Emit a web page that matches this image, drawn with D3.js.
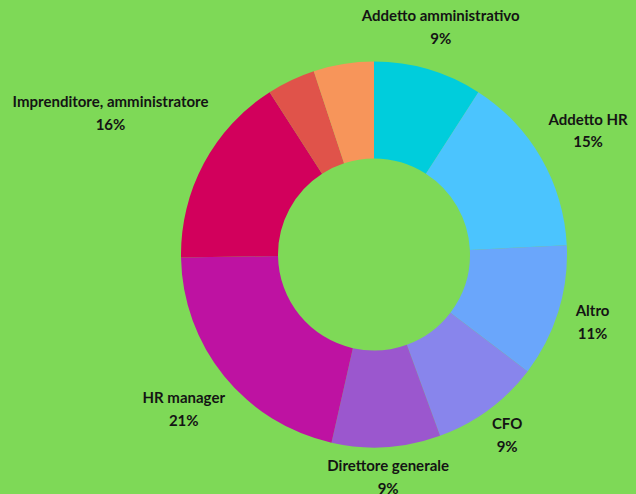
<!DOCTYPE html>
<html>
<head>
<meta charset="utf-8">
<script src="https://cdn.jsdelivr.net/npm/d3@7"></script>
<style>
  html, body { margin: 0; padding: 0; background: #7ed957; }
  svg { display: block; }
  text { font-family: Lato, "Noto Sans", sans-serif; font-weight: 700; fill: #141414; }
</style>
</head>
<body>
<svg id="chart" width="636" height="494"></svg>
<script>
// Ruoli dei partecipanti (in senso orario dalle ore 12)
const categories = [
  "Addetto amministrativo",
  "Addetto HR",
  "Altro",
  "CFO",
  "Direttore generale",
  "HR manager",
  "Imprenditore, amministratore",
  "",
  ""
];
const values = [9, 15, 11, 9, 9, 21, 16, 4, 5];
const valueLabels = ["9%", "15%", "11%", "9%", "9%", "21%", "16%", "", ""];
const colors = ["#00cddc", "#4bc4fe", "#6aa6fb", "#8885ec", "#9b57ce", "#be12a2", "#d2005c", "#e0534a", "#f7955a"];

const width = 636, height = 494;
const cx = 374, cy = 254.5;
const outerR = 193, innerR = 96, labelR = 212.5;
const fontSize = 15, lineGap = 22.5, halfBlock = 10;

const data = categories.map((c, i) => ({ name: c, value: values[i], label: valueLabels[i], color: colors[i] }));

const svg = d3.select("#chart");
const g = svg.append("g").attr("transform", `translate(${cx},${cy})`);

const pie = d3.pie().value(d => d.value).sort(null);
const arc = d3.arc().innerRadius(innerR).outerRadius(outerR);
const arcs = pie(data);

g.selectAll("path.slice")
  .data(arcs)
  .join("path")
  .attr("class", "slice")
  .attr("d", arc)
  .attr("fill", d => d.data.color);

// Etichette sul raggio dell'angolo medio, spinte fuori in base all'ingombro del blocco
const labels = g.selectAll("g.label")
  .data(arcs.filter(d => d.data.name))
  .join("g")
  .attr("class", "label");

labels.append("text")
  .attr("text-anchor", "middle")
  .attr("font-size", fontSize)
  .attr("y", -lineGap / 2 + fontSize * 0.35)
  .text(d => d.data.name);

labels.append("text")
  .attr("text-anchor", "middle")
  .attr("font-size", fontSize)
  .attr("y", lineGap / 2 + fontSize * 0.35)
  .text(d => d.data.label);

labels.each(function(d) {
  const node = d3.select(this);
  const w = node.select("text").node().getComputedTextLength();
  const a = (d.startAngle + d.endAngle) / 2;
  const sx = Math.sin(a), sy = -Math.cos(a);
  const t = Math.hypot(sx * w / 2, sy * halfBlock);
  const r = labelR + t;
  node.attr("transform", `translate(${r * sx},${r * sy})`);
});
</script>
</body>
</html>
